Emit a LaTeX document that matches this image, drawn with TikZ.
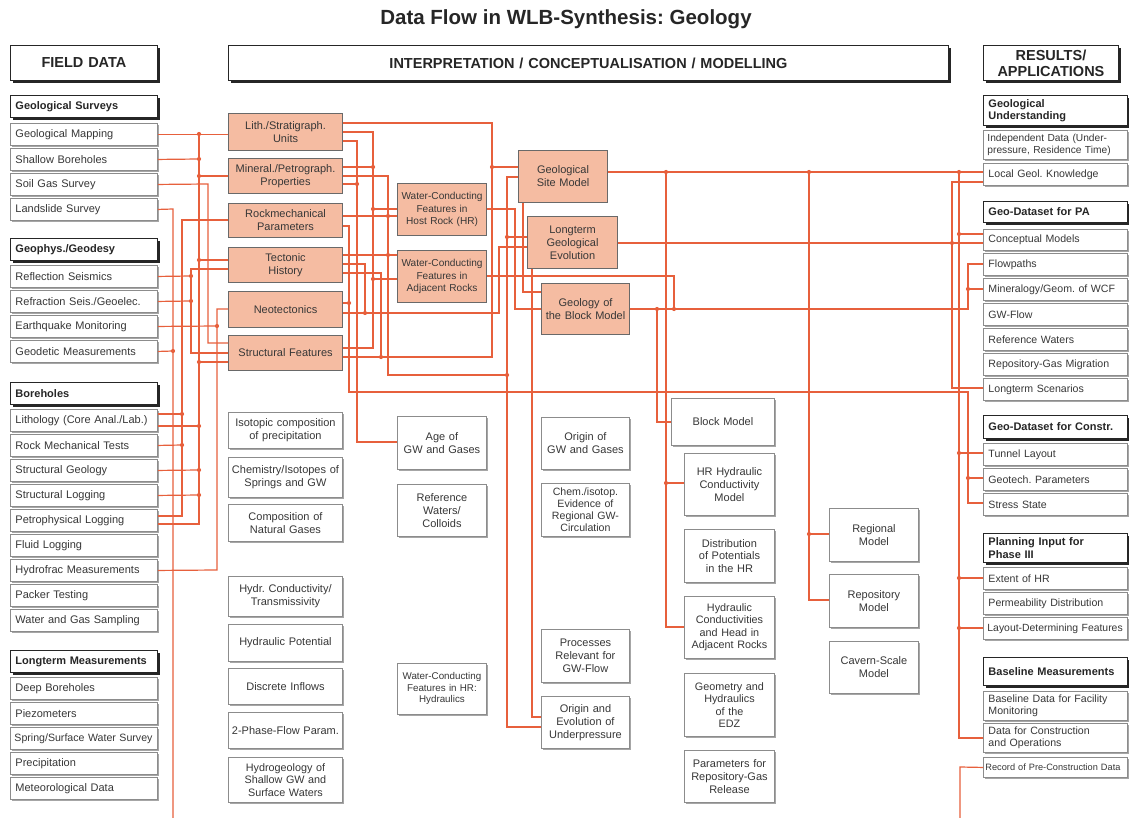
\documentclass[tikz,border=0pt]{standalone}
\usepackage{fontspec}
\setmainfont{Liberation Sans}
\usetikzlibrary{shadows}

\definecolor{wirec}{RGB}{231,96,60}
\definecolor{orfill}{RGB}{245,188,162}
\definecolor{orline}{RGB}{105,105,105}
\definecolor{txtc}{RGB}{55,55,55}

% box from its top-left (x1,y1) to its bottom-right (x2,y2), in pixel units;
% the optional argument is the horizontal padding
\newcommand{\mybox}[8][5]{%
  \pgfmathsetmacro{\myW}{#6-#4}%
  \pgfmathsetmacro{\myH}{#7-#5}%
  \pgfmathsetmacro{\myT}{#6-#4-2*#1}%
  \node[#2, inner xsep=#1pt, inner ysep=1pt, minimum width=\myW pt,
        minimum height=\myH pt, text width=\myT pt, anchor=north west]
        (#3) at (#4,#5) {#8};}
% centred boxes use almost no padding
\newcommand{\cbox}{\mybox[1]}
% junction dot
\newcommand{\jd}[2]{\fill[wirec] (#1,#2) circle (2.1pt);}

\tikzset{
  basebox/.style={rectangle, draw=black!45, line width=0.9pt, fill=white,
    text=txtc, drop shadow={shadow xshift=1.4pt, shadow yshift=-1.4pt,
    fill=black!35, opacity=1}},
  itembox/.style={basebox, align=left, font=\fontsize{11}{13}\selectfont},
  ritembox/.style={basebox, align=left, font=\fontsize{10.6}{12}\selectfont},
  headbox/.style={rectangle, draw=black!85, line width=0.9pt, fill=white,
    text=black!85, align=left, font=\bfseries\fontsize{11}{12.5}\selectfont,
    drop shadow={shadow xshift=2.2pt, shadow yshift=-2.2pt, fill=black!85, opacity=1}},
  topbox/.style={headbox, align=center, font=\bfseries\fontsize{14.5}{16}\selectfont},
  orbox/.style={rectangle, draw=orline, line width=1.1pt, fill=orfill,
    text=txtc, align=center, font=\fontsize{11}{13}\selectfont},
  midbox/.style={basebox, align=center, font=\fontsize{11}{12.8}\selectfont},
  wire/.style={draw=wirec, line width=1.2pt}
}

\begin{document}
\frenchspacing
\begin{tikzpicture}[x=1pt, y=-1pt]
\useasboundingbox (0,0) rectangle (1129,818);
\fill[white] (0,0) rectangle (1129,818);

\node[font=\bfseries\fontsize{20.5}{24}\selectfont, text=black!85] (title) at (566,19)
  {Data Flow in WLB-Synthesis: Geology};

% ---------- column headings ----------
\cbox{topbox}{fd}{10}{45}{157}{80}{FIELD DATA}
\cbox{topbox}{ic}{228}{45}{948}{80}{INTERPRETATION / CONCEPTUALISATION / MODELLING}
\cbox{topbox}{ra}{983}{45}{1118}{80}{RESULTS/\\APPLICATIONS}

% ---------- field data ----------
\mybox{headbox}{hgs}{10}{95}{157}{117}{Geological Surveys}
\mybox{itembox}{gm}{10}{123}{157}{145}{Geological Mapping}
\mybox{itembox}{sb}{10}{148}{157}{170}{Shallow Boreholes}
\mybox{itembox}{sg}{10}{173}{157}{195}{Soil Gas Survey}
\mybox{itembox}{ls}{10}{198}{157}{220}{Landslide Survey}
\mybox{headbox}{hgg}{10}{238}{157}{260}{Geophys./Geodesy}
\mybox{itembox}{rs}{10}{265}{157}{287}{Reflection Seismics}
\mybox{itembox}{rf}{10}{290}{157}{312}{Refraction Seis./Geoelec.}
\mybox{itembox}{eq}{10}{315}{157}{337}{Earthquake Monitoring}
\mybox{itembox}{gd}{10}{340}{157}{362}{Geodetic Measurements}
\mybox{headbox}{hbh}{10}{382}{157}{404}{Boreholes}
\mybox{itembox}{lit}{10}{409}{157}{431}{Lithology (Core Anal./Lab.)}
\mybox{itembox}{rmt}{10}{434}{157}{456}{Rock Mechanical Tests}
\mybox{itembox}{sge}{10}{459}{157}{481}{Structural Geology}
\mybox{itembox}{slo}{10}{484}{157}{506}{Structural Logging}
\mybox{itembox}{pet}{10}{509}{157}{531}{Petrophysical Logging}
\mybox{itembox}{flu}{10}{534}{157}{556}{Fluid Logging}
\mybox{itembox}{hyd}{10}{559}{157}{581}{Hydrofrac Measurements}
\mybox{itembox}{pac}{10}{584}{157}{606}{Packer Testing}
\mybox{itembox}{wgs}{10}{609}{157}{631}{Water and Gas Sampling}
\mybox{headbox}{hlm}{10}{650}{157}{672}{Longterm Measurements}
\mybox{itembox}{dbh}{10}{677}{157}{699}{Deep Boreholes}
\mybox{itembox}{pie}{10}{702}{157}{724}{Piezometers}
\mybox[4]{itembox, font=\fontsize{10.6}{12}\selectfont}{ssw}{10}{727}{157}{749}{Spring/Surface Water Survey}
\mybox{itembox}{pre}{10}{752}{157}{774}{Precipitation}
\mybox{itembox}{met}{10}{777}{157}{799}{Meteorological Data}

% ---------- geological interpretation ----------
\cbox{orbox}{lsu}{228}{113}{342}{150}{Lith./Stratigraph.\\Units}
\cbox{orbox}{mpp}{228}{158}{342}{193}{Mineral./Petrograph.\\Properties}
\cbox{orbox}{rmp}{228}{203}{342}{237}{Rockmechanical\\Parameters}
\cbox{orbox}{tec}{228}{247}{342}{282}{Tectonic\\History}
\cbox{orbox}{neo}{228}{291}{342}{327}{Neotectonics}
\cbox{orbox}{stf}{228}{335}{342}{370}{Structural Features}
\cbox{orbox, font=\fontsize{10.1}{12.3}\selectfont}{wchr}{397}{183}{486}{235}{Water-Conducting\\Features in\\Host Rock (HR)}
\cbox{orbox, font=\fontsize{10.1}{12.3}\selectfont}{wcar}{397}{250}{486}{302}{Water-Conducting\\Features in\\Adjacent Rocks}
\cbox{orbox}{gsm}{518}{150}{607}{202}{Geological\\Site Model}
\cbox{orbox}{lge}{527}{216}{617}{268}{Longterm\\Geological\\Evolution}
\cbox{orbox}{gbm}{541}{283}{629}{334}{Geology of\\the Block Model}

% ---------- hydrogeological interpretation ----------
\cbox{midbox}{iso}{228}{412}{342}{448}{Isotopic composition\\of precipitation}
\cbox{midbox}{chem}{228}{457}{342}{497}{Chemistry/Isotopes of\\Springs and GW}
\cbox{midbox}{cng}{228}{504}{342}{541}{Composition of\\Natural Gases}
\cbox{midbox}{hct}{228}{576}{342}{616}{Hydr. Conductivity/\\Transmissivity}
\cbox{midbox}{hpo}{228}{624}{342}{661}{Hydraulic Potential}
\cbox{midbox}{din}{228}{668}{342}{704}{Discrete Inflows}
\cbox{midbox}{tpf}{228}{712}{342}{748}{2-Phase-Flow Param.}
\cbox{midbox, font=\fontsize{10.8}{12.3}\selectfont}{hsg}{228}{757}{342}{802}{Hydrogeology of\\Shallow GW and\\Surface Waters}
\cbox{midbox}{age}{397}{416}{486}{469}{Age of\\GW and Gases}
\cbox{midbox}{rwc}{397}{484}{486}{536}{Reference\\Waters/\\Colloids}
\cbox{midbox, font=\fontsize{9.8}{11.5}\selectfont}{wch}{397}{663}{486}{714}{Water-Conducting\\Features in HR:\\Hydraulics}
\cbox{midbox}{ogw}{541}{417}{629}{469}{Origin of\\GW and Gases}
\cbox{midbox, font=\fontsize{10.6}{12}\selectfont}{cie}{541}{483}{629}{536}{Chem./isotop.\\Evidence of\\Regional GW-\\Circulation}
\cbox{midbox}{prf}{541}{629}{629}{682}{Processes\\Relevant for\\GW-Flow}
\cbox{midbox}{oeu}{541}{696}{629}{748}{Origin and\\Evolution of\\Underpressure}
\cbox{midbox}{blk}{671}{398}{774}{445}{Block Model}
\cbox{midbox}{hrc}{684}{453}{774}{515}{HR Hydraulic\\Conductivity\\Model}
\cbox{midbox}{dpo}{684}{529}{774}{582}{Distribution\\of Potentials\\in the HR}
\cbox{midbox, font=\fontsize{10.8}{12.5}\selectfont}{hca}{684}{596}{774}{658}{Hydraulic\\Conductivities\\and Head in\\Adjacent Rocks}
\cbox{midbox, font=\fontsize{10.8}{12.5}\selectfont}{edz}{684}{673}{774}{736}{Geometry and\\Hydraulics\\of the\\EDZ}
\cbox{midbox}{prg}{684}{750}{774}{802}{Parameters for\\Repository-Gas\\Release}
\cbox{midbox}{reg}{829}{508}{918}{561}{Regional\\Model}
\cbox{midbox}{rep}{829}{574}{918}{627}{Repository\\Model}
\cbox{midbox}{cav}{829}{641}{918}{693}{Cavern-Scale\\Model}

% ---------- results / applications ----------
\mybox{headbox}{hgu}{983}{95}{1127}{125}{Geological\\Understanding}
\mybox[4]{ritembox, font=\fontsize{10.2}{11.5}\selectfont}{ind}{983}{130}{1127}{159}{Independent Data (Under-\\pressure, Residence Time)}
\mybox{ritembox}{lgk}{983}{163}{1127}{185}{Local Geol. Knowledge}
\mybox{headbox}{hpa}{983}{201}{1127}{222}{Geo-Dataset for PA}
\mybox{ritembox}{cpm}{983}{229}{1127}{250}{Conceptual Models}
\mybox{ritembox}{flp}{983}{253}{1127}{275}{Flowpaths}
\mybox{ritembox}{mwc}{983}{278}{1127}{300}{Mineralogy/Geom. of WCF}
\mybox{ritembox}{gwf}{983}{303}{1127}{325}{GW-Flow}
\mybox{ritembox}{rfw}{983}{328}{1127}{350}{Reference Waters}
\mybox{ritembox}{rgm}{983}{353}{1127}{375}{Repository-Gas Migration}
\mybox{ritembox}{lts}{983}{378}{1127}{400}{Longterm Scenarios}
\mybox{headbox}{hco}{983}{415}{1127}{438}{Geo-Dataset for Constr.}
\mybox{ritembox}{tnl}{983}{443}{1127}{465}{Tunnel Layout}
\mybox{ritembox}{gtp}{983}{468}{1127}{490}{Geotech. Parameters}
\mybox{ritembox}{sts}{983}{493}{1127}{515}{Stress State}
\mybox{headbox}{hpl}{983}{533}{1127}{562}{Planning Input for\\Phase III}
\mybox{ritembox}{ehr}{983}{567}{1127}{589}{Extent of HR}
\mybox{ritembox}{pdi}{983}{592}{1127}{614}{Permeability Distribution}
\mybox[4]{ritembox, font=\fontsize{10.4}{12}\selectfont}{ldf}{983}{617}{1127}{639}{Layout-Determining Features}
\mybox{headbox}{hbm}{983}{657}{1127}{685}{Baseline Measurements}
\mybox{ritembox}{bdf}{983}{691}{1127}{720}{Baseline Data for Facility\\Monitoring}
\mybox{ritembox}{dco}{983}{723}{1127}{752}{Data for Construction\\and Operations}
\mybox[2]{ritembox, font=\fontsize{9.2}{10}\selectfont}{rpc}{983}{757}{1127}{777}{Record of Pre-Construction Data}

% off-page continuations at the bottom edge
\coordinate (offL) at (173,818);
\coordinate (offR) at (960,818);

% ---------- field data -> interpretation ----------
\draw[wire] (gm.east) -- (lsu.west |- gm.east);
\draw[wire] (sb.east) -- (199,159);
\draw[wire] (199,134) -- (199,524) -- (pet.east |- 0,524);
\draw[wire] (199,176) -- (mpp.west |- 0,176);
\draw[wire] (199,260) -- (tec.west |- 0,260);
\draw[wire] (199,362) -- (stf.west |- 0,362);
\draw[wire] (lit.east |- 0,426) -- (199,426);
\draw[wire] (sge.east) -- (199,470);
\draw[wire] (slo.east) -- (199,495);
\foreach \y in {134,159,176,260,362,426,470,495} {\jd{199}{\y}}

\draw[wire] (sg.east) -- (208,184) -- (208,343) -- (stf.west |- 0,343);
\draw[wire] (ls.east) -- (173,209) -- (offL);
\draw[wire] (gd.east) -- (173,351);
\jd{173}{351}

\draw[wire] (rmp.west |- 0,220) -- (182,220) -- (182,516) -- (pet.east |- 0,516);
\draw[wire] (lit.east |- 0,414) -- (182,414);
\draw[wire] (rmt.east) -- (182,445);
\jd{182}{414} \jd{182}{445}

\draw[wire] (tec.west |- 0,269) -- (191,269) -- (191,353) -- (stf.west |- 0,353);
\draw[wire] (rs.east) -- (191,276);
\draw[wire] (rf.east) -- (191,301);
\jd{191}{276} \jd{191}{301}

\draw[wire] (neo.west |- 0,309) -- (217,309) -- (217,570) -- (hyd.east);
\draw[wire] (eq.east) -- (217,326);
\jd{217}{326}

% ---------- within interpretation ----------
\draw[wire] (lsu.east |- 0,123) -- (492,123) -- (492,357) -- (stf.east |- 0,357);
\draw[wire] (492,167) -- (gsm.west |- 0,167);
\jd{492}{167}

\draw[wire] (lsu.east |- 0,132) -- (373,132) -- (373,348) -- (stf.east |- 0,348);
\draw[wire] (mpp.east |- 0,167) -- (373,167);
\draw[wire] (373,209) -- (wchr.west |- 0,209);
\draw[wire] (373,279) -- (wcar.west |- 0,279);
\jd{373}{167} \jd{373}{209} \jd{373}{279}

\draw[wire] (lsu.east |- 0,141) -- (357,141) -- (357,442) -- (age.west |- 0,442);
\draw[wire] (mpp.east |- 0,184) -- (357,184);
\jd{357}{184}

\draw[wire] (mpp.east |- 0,176) -- (388,176) -- (388,375) -- (507,375);
\draw[wire] (rmp.east |- 0,216) -- (wchr.west |- 0,216);
\draw[wire] (tec.east |- 0,255) -- (wcar.west |- 0,255);
\jd{388}{216} \jd{388}{255} \jd{507}{375}

\draw[wire] (rmp.east |- 0,226) -- (349,226) -- (349,392) -- (968,392) -- (968,503) -- (sts.west |- 0,503);
\draw[wire] (neo.east |- 0,303) -- (349,303);
\draw[wire] (968,478) -- (gtp.west |- 0,478);
\jd{349}{303} \jd{968}{478}

\draw[wire] (tec.east |- 0,264) -- (365,264) -- (365,313);
\draw[wire] (neo.east |- 0,313) -- (499,313) -- (499,247) -- (lge.west |- 0,247);
\jd{365}{313}

\draw[wire] (tec.east |- 0,273) -- (381,273) -- (381,357);
\jd{381}{357}

\draw[wire] (wchr.east |- 0,209) -- (515,209) -- (515,309) -- (gbm.west |- 0,309);
\draw[wire] (gsm.west |- 0,177) -- (507,177) -- (507,727) -- (oeu.west |- 0,727);
\draw[wire] (507,237) -- (lge.west |- 0,237);
\jd{507}{237}
\draw[wire] (gsm.south -| 523,0) -- (523,292) -- (gbm.west |- 0,292);
\draw[wire] (lge.south -| 532,0) -- (532,717) -- (oeu.west |- 0,717);

% ---------- interpretation -> results ----------
\draw[wire] (gsm.east |- 0,172) -- (lgk.west |- 0,172);
\jd{666}{172} \jd{809}{172} \jd{959}{172}
\draw[wire] (666,172) -- (666,627) -- (hca.west |- 0,627);
\draw[wire] (666,483) -- (hrc.west |- 0,483);
\jd{666}{483}
\draw[wire] (809,172) -- (809,600) -- (rep.west |- 0,600);
\draw[wire] (809,534) -- (reg.west |- 0,534);
\jd{809}{534}
\draw[wire] (959,172) -- (959,738) -- (dco.west |- 0,738);
\draw[wire] (959,234) -- (cpm.west |- 0,234);
\draw[wire] (959,453) -- (tnl.west |- 0,453);
\draw[wire] (959,578) -- (ehr.west |- 0,578);
\draw[wire] (959,628) -- (ldf.west |- 0,628);
\foreach \y in {234,453,578,628} {\jd{959}{\y}}
\draw[wire] (lgk.west |- 0,182) -- (952,182) -- (952,388) -- (lts.west |- 0,388);
\draw[wire] (lge.east |- 0,243) -- (cpm.west |- 0,243);
\jd{952}{243}
\draw[wire] (gbm.east |- 0,309) -- (968,309) -- (968,264) -- (flp.west |- 0,264);
\draw[wire] (968,289) -- (mwc.west |- 0,289);
\jd{968}{289} \jd{657}{309} \jd{674}{309}
\draw[wire] (657,309) -- (657,422) -- (blk.west |- 0,422);
\draw[wire] (wcar.east |- 0,276) -- (674,276) -- (674,309);
\draw[wire] (rpc.west) -- (960,767) -- (offR);

\end{tikzpicture}
\end{document}
